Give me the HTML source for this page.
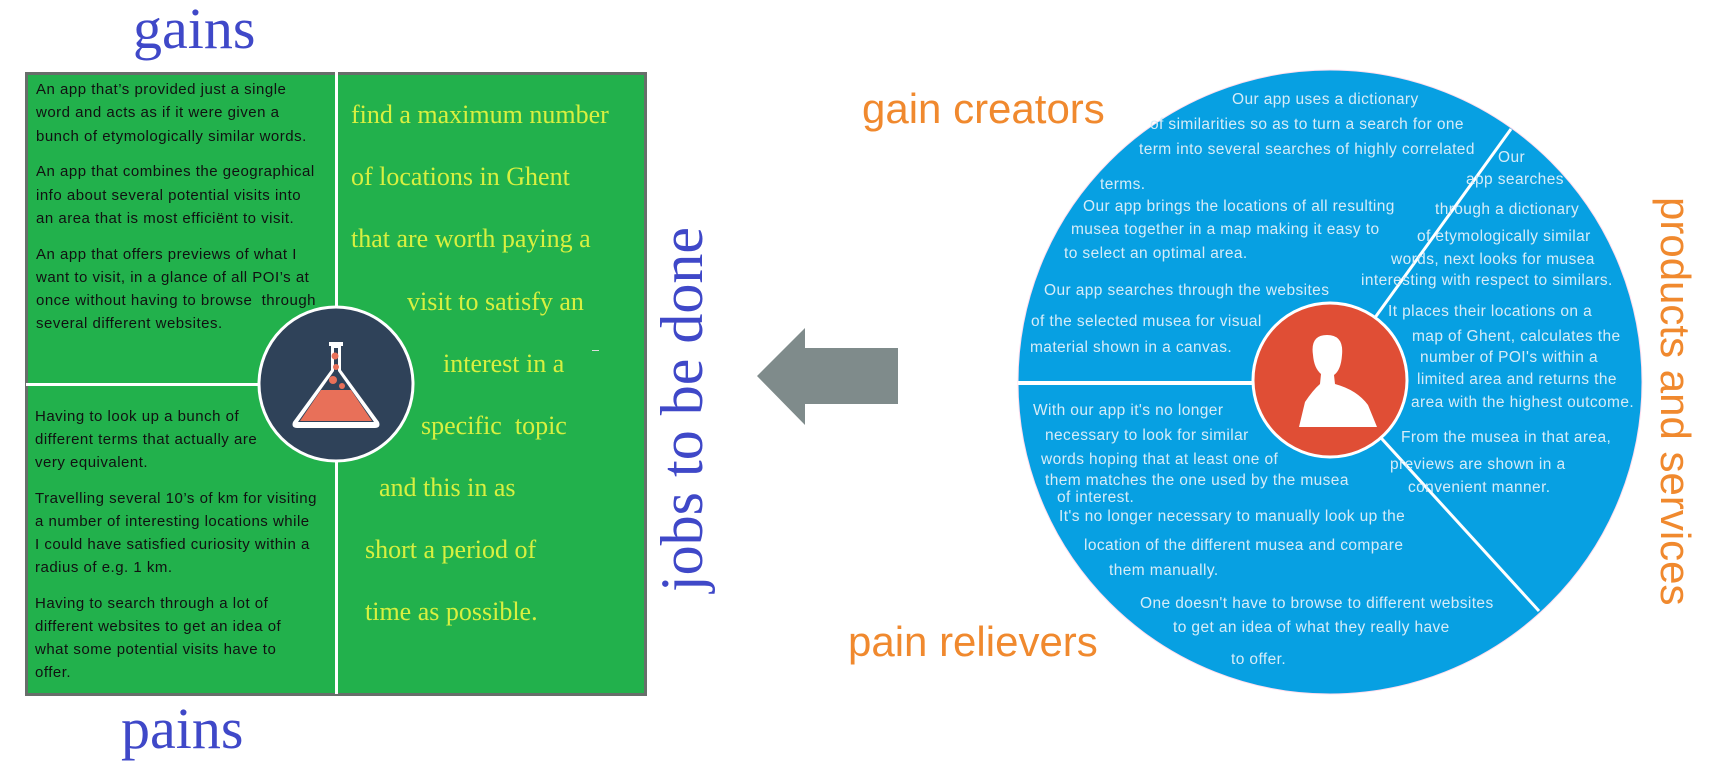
<!DOCTYPE html>
<html><head><meta charset="utf-8"><style>
body{margin:0;width:1714px;height:783px;background:#fff;position:relative;overflow:hidden;font-family:"Liberation Sans",sans-serif}
.a{position:absolute;white-space:nowrap}
.l{font-size:15px;letter-spacing:0.5px;color:#111;line-height:18px}
.j{font-family:"Liberation Serif",serif;font-size:26px;color:#d8f040;line-height:30px}
.c{font-size:15.5px;letter-spacing:0.4px;color:#d6ecf8;line-height:18px}
.big{font-family:"Liberation Serif",serif;color:#3f48c8;font-size:58px;line-height:60px}
.or{color:#f0892e;font-size:42px;line-height:46px}
</style></head><body>
<!-- left box -->
<div class="a" style="left:25px;top:72px;width:616px;height:618px;background:#22b14c;border:3px solid #676e6a"></div>
<div class="a" style="left:335px;top:72px;width:3px;height:622px;background:#fff"></div>
<div class="a" style="left:26px;top:383px;width:310px;height:3px;background:#fff"></div>

<div class="a l" style="left:36px;top:81px">An app that’s provided just a single</div>
<div class="a l" style="left:36px;top:104px">word and acts as if it were given a</div>
<div class="a l" style="left:36px;top:128px">bunch of etymologically similar words.</div>
<div class="a l" style="left:36px;top:163px">An app that combines the geographical</div>
<div class="a l" style="left:36px;top:187px">info about several potential visits into</div>
<div class="a l" style="left:36px;top:210px">an area that is most efficiënt to visit.</div>
<div class="a l" style="left:36px;top:246px">An app that offers previews of what I</div>
<div class="a l" style="left:36px;top:269px">want to visit, in a glance of all POI’s at</div>
<div class="a l" style="left:36px;top:292px">once without having to browse&nbsp; through</div>
<div class="a l" style="left:36px;top:315px">several different websites.</div>

<div class="a l" style="left:35px;top:408px">Having to look up a bunch of</div>
<div class="a l" style="left:35px;top:431px">different terms that actually are</div>
<div class="a l" style="left:35px;top:454px">very equivalent.</div>
<div class="a l" style="left:35px;top:490px">Travelling several 10’s of km for visiting</div>
<div class="a l" style="left:35px;top:513px">a number of interesting locations while</div>
<div class="a l" style="left:35px;top:536px">I could have satisfied curiosity within a</div>
<div class="a l" style="left:35px;top:559px">radius of e.g. 1 km.</div>
<div class="a l" style="left:35px;top:595px">Having to search through a lot of</div>
<div class="a l" style="left:35px;top:618px">different websites to get an idea of</div>
<div class="a l" style="left:35px;top:641px">what some potential visits have to</div>
<div class="a l" style="left:35px;top:664px">offer.</div>

<div class="a j" style="left:351px;top:100px">find a maximum number</div>
<div class="a j" style="left:351px;top:162px">of locations in Ghent</div>
<div class="a j" style="left:351px;top:224px">that are worth paying a</div>
<div class="a j" style="left:407px;top:287px">visit to satisfy an</div>
<div class="a j" style="left:443px;top:349px">interest in a</div>
<div class="a" style="left:592px;top:350px;width:7px;height:1px;background:#ddd"></div>
<div class="a j" style="left:421px;top:411px">specific&nbsp; topic</div>
<div class="a j" style="left:379px;top:473px">and this in as</div>
<div class="a j" style="left:365px;top:535px">short a period of</div>
<div class="a j" style="left:365px;top:597px">time as possible.</div>

<!-- flask circle -->
<svg class="a" style="left:255px;top:304px" width="162" height="160" viewBox="0 0 162 160">
<circle cx="81" cy="80" r="77" fill="#2f4259" stroke="#fff" stroke-width="3"/>
<path d="M74 38 L88 38 L88 42 L86 42 L86 66 L124 118 Q126 124 120 124 L42 124 Q36 124 38 118 L76 66 L76 42 L74 42 Z" fill="#fff"/>
<path d="M79 44 L83 44 L83 67 L119 118 L43 118 L79 67 Z" fill="#2f4259"/>
<path d="M66 86 L96 86 L117 117 L45 117 Z" fill="#e87059"/>
<circle cx="80" cy="52" r="3.5" fill="#e87059"/><circle cx="81" cy="63" r="3" fill="#e87059"/>
<circle cx="78" cy="76" r="4" fill="#e87059"/><circle cx="87" cy="82" r="3" fill="#e87059"/>
</svg>

<div class="a big" style="left:133px;top:-1px">gains</div>
<div class="a big" style="left:121px;top:699px">pains</div>
<div class="a big" style="left:652px;top:592px;transform:rotate(-90deg);transform-origin:left top;font-size:60px;width:380px">jobs to be done</div>

<!-- arrow -->
<svg class="a" style="left:750px;top:320px" width="160" height="110">
<polygon points="7,56 55,8 55,28 148,28 148,84 55,84 55,105" fill="#7f8b8b"/>
</svg>

<!-- right circle -->
<svg class="a" style="left:1000px;top:50px" width="700" height="680">
<circle cx="330" cy="332" r="312" fill="#07a0e2" stroke="#fde" stroke-width="1"/>
<line x1="330" y1="333" x2="18" y2="333" stroke="#fff" stroke-width="4"/>
<line x1="330" y1="330" x2="511" y2="79" stroke="#fff" stroke-width="3"/>
<line x1="330" y1="332" x2="539" y2="561" stroke="#fff" stroke-width="3"/>
<circle cx="330" cy="330" r="77" fill="#e04e35" stroke="#fff" stroke-width="3"/>
<path d="M313 305 Q310 285 327 285 Q344 285 342 305 Q341 320 334 325 L335 334 Q357 340 368 355 L377 377 L299 377 L305 352 Q313 340 320 334 L321 324 Q314 318 313 305 Z" fill="#fff"/>
</svg>

<div class="a c" style="left:1232px;top:91px">Our app uses a dictionary</div>
<div class="a c" style="left:1150px;top:116px">of similarities so as to turn a search for one</div>
<div class="a c" style="left:1139px;top:141px">term into several searches of highly correlated</div>
<div class="a c" style="left:1100px;top:176px">terms.</div>
<div class="a c" style="left:1083px;top:198px">Our app brings the locations of all resulting</div>
<div class="a c" style="left:1071px;top:221px">musea together in a map making it easy to</div>
<div class="a c" style="left:1064px;top:245px">to select an optimal area.</div>
<div class="a c" style="left:1044px;top:282px">Our app searches through the websites</div>
<div class="a c" style="left:1031px;top:313px">of the selected musea for visual</div>
<div class="a c" style="left:1030px;top:339px">material shown in a canvas.</div>
<div class="a c" style="left:1498px;top:149px">Our</div>
<div class="a c" style="left:1466px;top:171px">app searches</div>
<div class="a c" style="left:1435px;top:201px">through a dictionary</div>
<div class="a c" style="left:1417px;top:228px">of etymologically similar</div>
<div class="a c" style="left:1391px;top:251px">words, next looks for musea</div>
<div class="a c" style="left:1361px;top:272px">interesting with respect to similars.</div>
<div class="a c" style="left:1388px;top:303px">It places their locations on a</div>
<div class="a c" style="left:1412px;top:328px">map of Ghent, calculates the</div>
<div class="a c" style="left:1420px;top:349px">number of POI's within a</div>
<div class="a c" style="left:1417px;top:371px">limited area and returns the</div>
<div class="a c" style="left:1411px;top:394px">area with the highest outcome.</div>
<div class="a c" style="left:1401px;top:429px">From the musea in that area,</div>
<div class="a c" style="left:1390px;top:456px">previews are shown in a</div>
<div class="a c" style="left:1408px;top:479px">convenient manner.</div>
<div class="a c" style="left:1033px;top:402px">With our app it's no longer</div>
<div class="a c" style="left:1045px;top:427px">necessary to look for similar</div>
<div class="a c" style="left:1041px;top:451px">words hoping that at least one of</div>
<div class="a c" style="left:1045px;top:472px">them matches the one used by the musea</div>
<div class="a c" style="left:1057px;top:489px">of interest.</div>
<div class="a c" style="left:1059px;top:508px">It's no longer necessary to manually look up the</div>
<div class="a c" style="left:1084px;top:537px">location of the different musea and compare</div>
<div class="a c" style="left:1109px;top:562px">them manually.</div>
<div class="a c" style="left:1140px;top:595px">One doesn't have to browse to different websites</div>
<div class="a c" style="left:1173px;top:619px">to get an idea of what they really have</div>
<div class="a c" style="left:1231px;top:651px">to offer.</div>

<div class="a or" style="left:862px;top:86px">gain creators</div>
<div class="a or" style="left:848px;top:619px">pain relievers</div>
<div class="a or" style="left:1698px;top:197px;transform:rotate(90deg);transform-origin:left top">products and services</div>
</body></html>
